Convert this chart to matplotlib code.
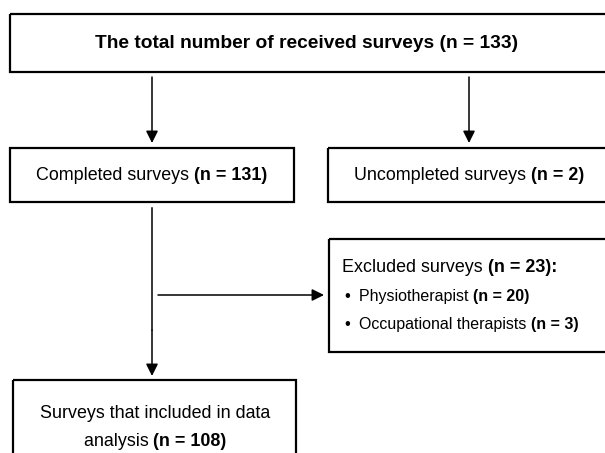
import matplotlib
matplotlib.use("Agg")
import matplotlib.pyplot as plt
from matplotlib.patches import Rectangle

plt.rcParams["font.family"] = ["Liberation Sans", "DejaVu Sans"]

# survey counts
stages = ["received", "completed", "uncompleted", "excluded",
          "physiotherapist", "occupational", "included"]
counts = [133, 131, 2, 23, 20, 3, 108]
n = dict(zip(stages, counts))

W, H = 605, 453
fig = plt.figure(figsize=(W / 100, H / 100), dpi=100)
ax = fig.add_axes([0, 0, 1, 1])
ax.set_xlim(0, W)
ax.set_ylim(H, 0)
ax.axis("off")
renderer = fig.canvas.get_renderer()

FS = 12.9
LW = 1.6


def box(x0, y0, x1, y1):
    ax.add_patch(Rectangle((x0, y0), x1 - x0, y1 - y0, fill=False,
                           edgecolor="black", linewidth=LW, clip_on=False))


def arrow(x0, y0, x1, y1):
    ax.annotate("", xy=(x1, y1), xytext=(x0, y0),
                arrowprops=dict(arrowstyle="-|>", color="black", lw=1.1,
                                mutation_scale=18, shrinkA=0, shrinkB=0))


def rich(x, y, parts, ha="left", size=FS):
    # parts: list of (text, bold); drawn side by side
    widths = []
    for txt, bold in parts:
        t = ax.text(0, 0, txt, fontsize=size,
                    fontweight="bold" if bold else "normal")
        bb = t.get_window_extent(renderer)
        widths.append(bb.width)
        t.remove()
    total = sum(widths)
    cx = x - total / 2 if ha == "center" else x
    for (txt, bold), w in zip(parts, widths):
        ax.text(cx, y, txt, fontsize=size, va="center", ha="left",
                fontweight="bold" if bold else "normal")
        cx += w


# boxes
box(10, 14, 620, 72)
box(10, 148, 294, 202)
box(328, 148, 620, 202)
box(329, 239, 620, 352)
box(13, 380, 296, 470)

# arrows and connectors
arrow(152, 77, 152, 143)
arrow(469, 77, 469, 143)
ax.plot([152, 152], [208, 330], color="black", lw=1.1)
arrow(152, 330, 152, 376)
arrow(158, 295, 324, 295)

# texts
rich(307, 43, [(f"The total number of received surveys (n = {n['received']})", True)],
     ha="center", size=13.8)
rich(152, 176, [("Completed surveys ", False), (f"(n = {n['completed']})", True)],
     ha="center")
rich(354, 176, [("Uncompleted surveys ", False), (f"(n = {n['uncompleted']})", True)])
rich(342, 268, [("Excluded surveys ", False), (f"(n = {n['excluded']}):", True)])
for yy, label, key in [(297, "Physiotherapist ", "physiotherapist"),
                       (325, "Occupational therapists ", "occupational")]:
    ax.text(347, yy, "\u2022", fontsize=12, ha="center", va="center")
    rich(359, yy, [(label, False), (f"(n = {n[key]})", True)], size=11.5)
rich(155, 414, [("Surveys that included in data", False)], ha="center")
rich(155, 441, [("analysis ", False), (f"(n = {n['included']})", True)], ha="center")

fig.savefig("out.png", dpi=100)
